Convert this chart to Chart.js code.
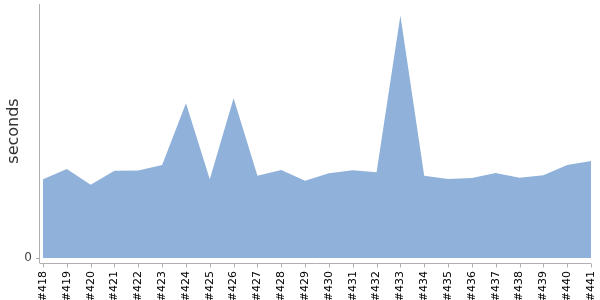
<!DOCTYPE html>
<html>
<head>
<meta charset="utf-8">
<script src="https://cdn.jsdelivr.net/npm/chart.js@4.4.1/dist/chart.umd.min.js"></script>
<style>
  html, body { margin: 0; padding: 0; background: #ffffff; }
  #wrap { width: 600px; height: 300px; }
</style>
</head>
<body>
<div id="wrap"><canvas id="chart" width="600" height="300"></canvas></div>
<script>
// build numbers along the x axis
const builds = ['#418', '#419', '#420', '#421', '#422', '#423', '#424', '#425', '#426', '#427', '#428', '#429',
                '#430', '#431', '#432', '#433', '#434', '#435', '#436', '#437', '#438', '#439', '#440', '#441'];

// duration of each build (seconds)
const durations = [78.7, 89, 73.3, 87.3, 87.5, 93, 154.7, 78.7, 159.7, 82.3, 88, 77.3,
                   84.7, 87.7, 85.7, 242.5, 82.3, 79, 80, 85, 80.3, 82.7, 93, 97];

const yMax = 254;

// axis lines sit a few pixels off the plot, like the original
const axisLines = {
    id: 'axisLines',
    afterDraw(chart) {
        const { ctx, chartArea } = chart;
        const xScale = chart.scales.x;
        const yScale = chart.scales.y;
        ctx.save();
        ctx.strokeStyle = '#b0b0b0';
        ctx.lineWidth = 1;
        ctx.beginPath();
        // y axis
        ctx.moveTo(chartArea.left - 3.5, chartArea.top);
        ctx.lineTo(chartArea.left - 3.5, chartArea.bottom + 5);
        // tick at zero
        const y0 = Math.round(yScale.getPixelForValue(0)) + 0.5;
        ctx.moveTo(chartArea.left - 7, y0);
        ctx.lineTo(chartArea.left - 3.5, y0);
        // x axis
        const xl = chartArea.bottom + 5.5;
        ctx.moveTo(chartArea.left - 3.5, xl);
        ctx.lineTo(chartArea.right, xl);
        builds.forEach((b, i) => {
            const px = Math.round(xScale.getPixelForValue(i)) + 0.5;
            ctx.moveTo(px, xl);
            ctx.lineTo(px, xl + 4);
        });
        ctx.stroke();
        ctx.restore();
    }
};

// drop the extra room chart.js keeps for the outer labels
function noPadding(scale) {
    scale.paddingTop = 0;
    scale.paddingBottom = 0;
    scale.paddingLeft = 0;
    scale.paddingRight = 0;
}

new Chart(document.getElementById('chart'), {
    type: 'line',
    data: {
        labels: builds,
        datasets: [{
            data: durations,
            fill: 'origin',
            backgroundColor: 'rgb(143, 177, 218)',
            borderWidth: 0,
            pointRadius: 0,
            tension: 0
        }]
    },
    options: {
        responsive: false,
        animation: false,
        layout: { padding: { top: 4, right: 9, left: 0, bottom: 0 } },
        plugins: {
            legend: { display: false },
            tooltip: { enabled: false }
        },
        scales: {
            x: {
                offset: false,
                grid: { display: false, drawTicks: false },
                border: { display: false },
                ticks: {
                    autoSkip: false,
                    maxRotation: 90,
                    minRotation: 90,
                    padding: 13,
                    color: '#000000',
                    font: { family: 'DejaVu Sans', size: 11 }
                },
                afterFit(scale) {
                    scale.height = 42;
                    noPadding(scale);
                }
            },
            y: {
                min: 0,
                max: yMax,
                grid: { display: false, drawTicks: false },
                border: { display: false },
                ticks: {
                    padding: 11,
                    color: '#444444',
                    font: { family: 'DejaVu Sans', size: 12 },
                    callback: function(value) {
                        return value === 0 ? '0' : '';
                    }
                },
                title: {
                    display: true,
                    text: 'seconds',
                    color: '#333333',
                    padding: { top: 4, bottom: 0 },
                    font: { family: 'DejaVu Sans', size: 16 }
                },
                afterFit(scale) {
                    scale.width = 43;
                    noPadding(scale);
                }
            }
        }
    },
    plugins: [axisLines]
});
</script>
</body>
</html>
